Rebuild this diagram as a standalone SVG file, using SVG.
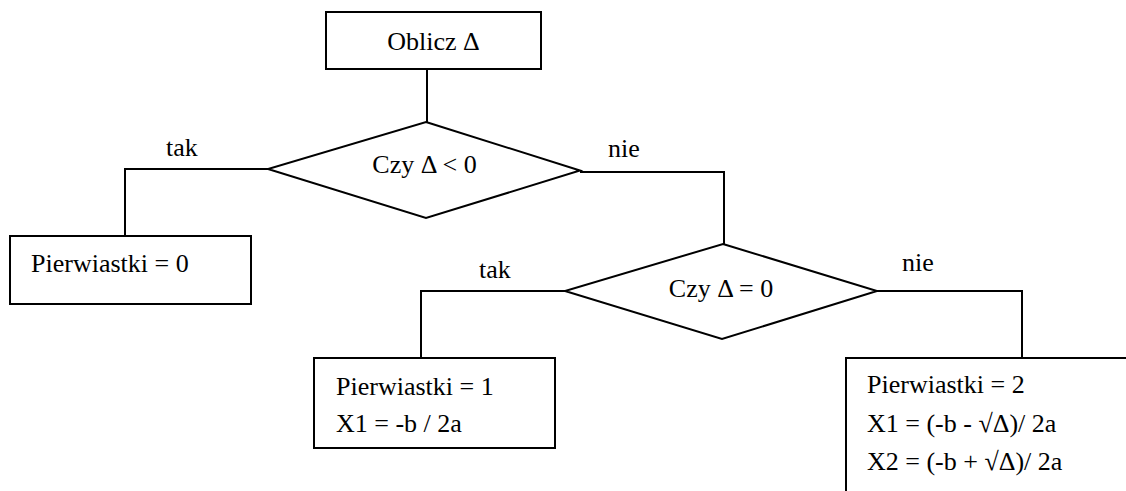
<svg xmlns="http://www.w3.org/2000/svg" width="1126" height="491" viewBox="0 0 1126 491">
<style>
.shape{fill:#fff;stroke:#000;stroke-width:2}
.conn{fill:none;stroke:#000;stroke-width:2}
.t{font-family:'Liberation Serif','DejaVu Serif',serif;font-size:26px;fill:#000}
.c{text-anchor:middle}
</style>
<rect width="1126" height="491" fill="#fff"/>
<g id="connectors">
<polyline class="conn" points="427,69 427,122"/>
<polyline class="conn" points="268,169 125,169 125,236"/>
<polyline class="conn" points="580,172 724,172 724,244"/>
<polyline class="conn" points="565,291 421,291 421,358"/>
<polyline class="conn" points="877,291 1022,291 1022,358"/>
<text class="t c" x="182" y="156">tak</text>
<text class="t c" x="624" y="157">nie</text>
<text class="t c" x="495" y="278">tak</text>
<text class="t c" x="918" y="271">nie</text>
</g>
<g id="oblicz">
<rect class="shape" x="326" y="12" width="215" height="57"/>
<text class="t c" x="433.5" y="50">Oblicz Δ</text>
</g>
<g id="decision1">
<polygon class="shape" points="426,122 580,170.5 426,218 268,169"/>
<text class="t c" x="424.5" y="173">Czy Δ &lt; 0</text>
</g>
<g id="result0">
<rect class="shape" x="10" y="236" width="241" height="68"/>
<text class="t" x="31" y="272">Pierwiastki = 0</text>
</g>
<g id="decision2">
<polygon class="shape" points="723,244 877,291 722,339 565,291"/>
<text class="t c" x="721" y="297">Czy Δ = 0</text>
</g>
<g id="result1">
<rect class="shape" x="314" y="358" width="241" height="90"/>
<text class="t" x="336" y="395">Pierwiastki = 1</text>
<text class="t" x="336" y="432">X1 = -b / 2a</text>
</g>
<g id="result2">
<rect class="shape" x="846" y="358" width="300" height="160"/>
<text class="t" x="867" y="393">Pierwiastki = 2</text>
<text class="t" x="867" y="431.5">X1 = (-b - √Δ)/ 2a</text>
<text class="t" x="867" y="470">X2 = (-b + √Δ)/ 2a</text>
</g>
</svg>
